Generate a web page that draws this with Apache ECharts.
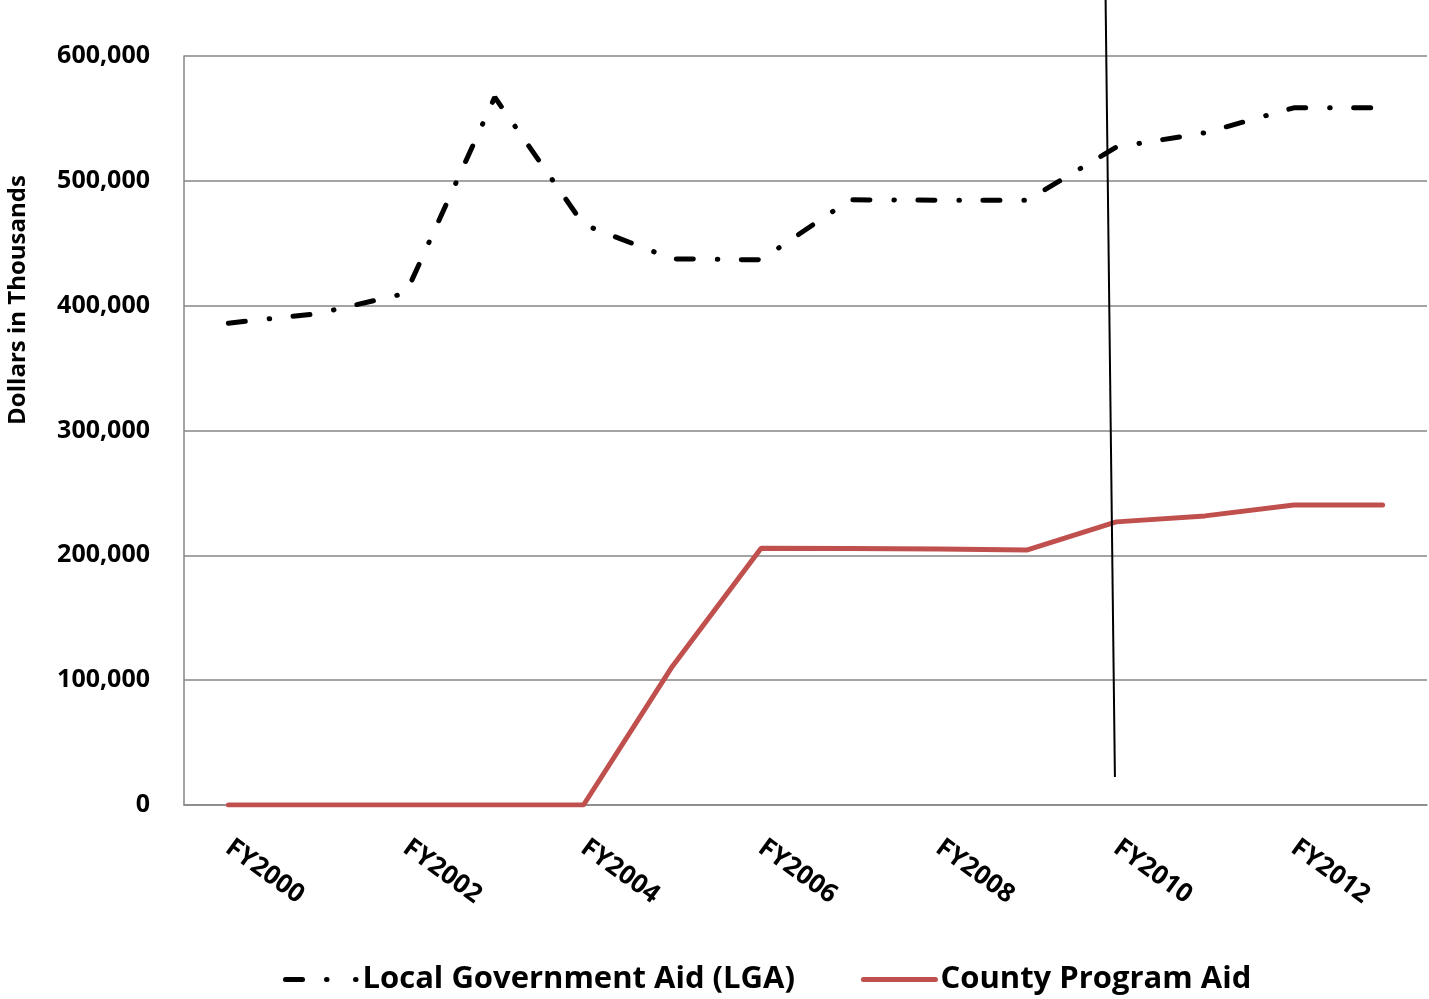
<!DOCTYPE html>
<html>
<head>
<meta charset="utf-8">
<script src="https://cdn.jsdelivr.net/npm/echarts@6/dist/echarts.min.js"></script>
<style>
html,body{margin:0;padding:0;background:#fff;}
#chart{width:1429px;height:999px;}
</style>
</head>
<body>
<div id="chart"></div>
<script>
const categories = ['FY2000','FY2001','FY2002','FY2003','FY2004','FY2005','FY2006','FY2007','FY2008','FY2009','FY2010','FY2011','FY2012','FY2013'];
const lgaValues = [386000, 393500, 410000, 567000, 465000, 437500, 436700, 484800, 484500, 484500, 527000, 538500, 558500, 558500];
const countyValues = [0, 0, 0, 0, 0, 111000, 205700, 205500, 205000, 204300, 226800, 231600, 240400, 240400];
// annotation line drawn on the figure (x in category-index units, y in dollars)
const annotationLine = [[9.88, 645000], [9.985, 22400]];
const yTicks = {min: 0, max: 600000, interval: 100000};
const seriesNames = ['Local Government Aid (LGA)', 'County Program Aid'];

const FONT = 'Open Sans';
const chart = echarts.init(document.getElementById('chart'), null, {renderer: 'canvas'});
chart.setOption({
  animation: false,
  backgroundColor: '#fff',
  grid: {left: 184, right: 2, top: 56, bottom: 194},
  legend: {
    data: [
      {name: seriesNames[0], itemStyle: {opacity: 0},
       lineStyle: {color: '#000', width: 5, type: [17, 24, 0.5, 28.5, 0.5, 60], cap: 'round'}},
      {name: seriesNames[1], itemStyle: {opacity: 0},
       lineStyle: {color: '#C0504D', width: 5, cap: 'round'}}
    ],
    left: 278, top: 959,
    itemWidth: 72, itemHeight: 14, itemGap: 66,
    textStyle: {fontFamily: FONT, fontWeight: 'bold', fontSize: 31, color: '#000'}
  },
  graphic: [{
    type: 'text',
    x: 18, y: 300,
    rotation: Math.PI / 2,
    style: {
      text: 'Dollars in Thousands',
      font: 'bold 24px "Open Sans"',
      fill: '#000',
      align: 'center',
      verticalAlign: 'middle'
    }
  }],
  xAxis: [{
    type: 'category',
    data: categories,
    boundaryGap: true,
    axisLine: {show: true, lineStyle: {color: '#868686', width: 1.5}},
    axisTick: {show: false},
    axisLabel: {
      interval: 1, rotate: -36, margin: 40,
      fontFamily: FONT, fontWeight: 'bold', fontSize: 26, color: '#000'
    },
    splitLine: {show: false}
  }, {
    type: 'value', min: -0.5, max: 13.5, show: false
  }],
  yAxis: {
    type: 'value',
    min: yTicks.min, max: yTicks.max, interval: yTicks.interval,
    axisLine: {show: true, onZero: false, lineStyle: {color: '#868686', width: 1.5}},
    axisTick: {show: false},
    axisLabel: {
      margin: 34,
      fontFamily: FONT, fontWeight: 'bold', fontSize: 25, color: '#000',
      formatter: v => v.toLocaleString('en-US')
    },
    splitLine: {show: true, lineStyle: {color: '#868686', width: 1.5}}
  },
  series: [{
    name: seriesNames[0],
    type: 'line',
    data: lgaValues,
    showSymbol: false, symbol: 'none',
    color: '#000',
    lineStyle: {color: '#000', width: 5, type: [17, 24, 0.5, 23.5], cap: 'round'}
  }, {
    name: seriesNames[1],
    type: 'line',
    data: countyValues,
    showSymbol: false, symbol: 'none',
    color: '#C0504D',
    lineStyle: {color: '#C0504D', width: 5, cap: 'round'}
  }, {
    name: 'annotation',
    type: 'line',
    xAxisIndex: 1,
    data: annotationLine,
    showSymbol: false, symbol: 'none',
    clip: false, silent: true,
    color: '#000',
    lineStyle: {color: '#000', width: 2}
  }]
});
</script>
</body>
</html>
